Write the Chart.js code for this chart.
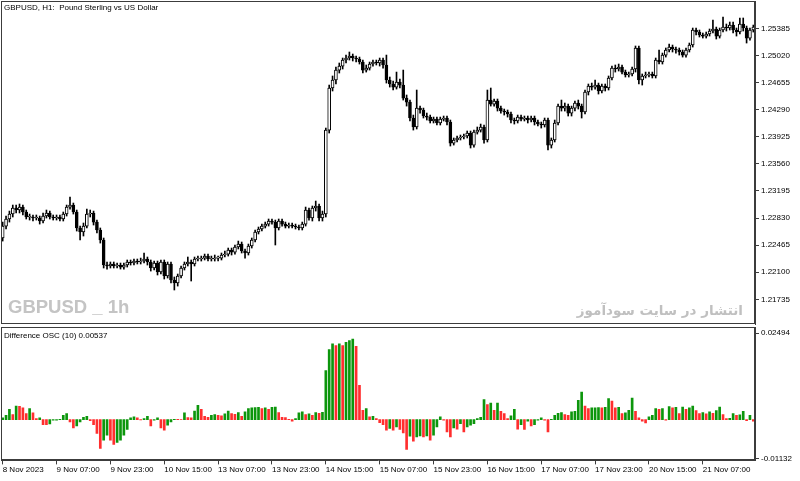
<!DOCTYPE html>
<html>
<head>
<meta charset="utf-8">
<script src="https://cdn.jsdelivr.net/npm/chart.js@4"></script>
<style>
  body { margin: 0; background: #fff; width: 800px; height: 481px; overflow: hidden; position: relative; font-family: "Liberation Sans", sans-serif; }
  #main { position: absolute; left: 0; top: 0; }
  #osc { position: absolute; left: 0; top: 326px; }
  .lbl { position: absolute; color: #000; font-size: 8px; white-space: nowrap; }
  #wm { position: absolute; left: 8px; top: 296px; font: bold 18.5px "Liberation Sans", sans-serif; color: #c4c4c4; white-space: nowrap; }
  #fa { position: absolute; right: 57px; top: 302px; font: bold 13.5px "DejaVu Sans", sans-serif; color: #c0c0c0; direction: rtl; white-space: nowrap; }
</style>
</head>
<body>
<canvas id="main" width="800" height="326"></canvas>
<canvas id="osc" width="800" height="155"></canvas>
<div class="lbl" style="left:4px;top:3px">GBPUSD, H1:&nbsp; Pound Sterling vs US Dollar</div>
<div id="wm">GBPUSD _ 1h</div>
<div id="fa">انتشار در سایت سودآموز</div>
<div class="lbl" style="left:4px;top:331px">Difference OSC (10) 0.00537</div>
<script>
// ---- GBPUSD H1 candles, 8 Nov 2023 15:00 -> 21 Nov 2023 22:00 ----
const opens = [
1.22561,1.22722,1.22817,1.22884,1.22965,1.22938,1.22978,1.22911,1.22844,1.22844,
1.22830,1.22830,1.22790,1.22857,1.22898,1.22844,1.22830,1.22844,1.22817,1.22884,
1.22978,1.23005,1.22911,1.22696,1.22642,1.22722,1.22884,1.22898,1.22776,1.22669,
1.22534,1.22197,1.22184,1.22211,1.22184,1.22197,1.22170,1.22197,1.22238,1.22224,
1.22251,1.22238,1.22251,1.22278,1.22238,1.22157,1.22224,1.22103,1.22238,1.22049,
1.22211,1.21995,1.21955,1.22049,1.22157,1.22211,1.22238,1.22211,1.22278,1.22278,
1.22291,1.22318,1.22278,1.22278,1.22291,1.22291,1.22332,1.22345,1.22399,1.22372,
1.22440,1.22480,1.22386,1.22359,1.22453,1.22534,1.22642,1.22682,1.22722,1.22749,
1.22790,1.22776,1.22696,1.22790,1.22749,1.22722,1.22736,1.22722,1.22709,1.22696,
1.22749,1.22938,1.22830,1.22965,1.22992,1.22830,1.22884,1.24015,1.24581,1.24689,
1.24823,1.24877,1.24958,1.24985,1.25012,1.24985,1.24972,1.24931,1.24823,1.24850,
1.24904,1.24931,1.24918,1.24958,1.24891,1.24689,1.24635,1.24594,1.24662,1.24621,
1.24446,1.24392,1.24177,1.24056,1.24311,1.24285,1.24204,1.24190,1.24137,1.24163,
1.24110,1.24163,1.24177,1.24123,1.23840,1.23881,1.23908,1.23921,1.23935,1.23975,
1.23813,1.23988,1.24015,1.24056,1.23881,1.24419,1.24365,1.24406,1.24311,1.24271,
1.24258,1.24231,1.24150,1.24137,1.24190,1.24163,1.24177,1.24150,1.24177,1.24123,
1.24096,1.24083,1.24150,1.23813,1.23881,1.24110,1.24338,1.24311,1.24338,1.24244,
1.24311,1.24379,1.24338,1.24258,1.24527,1.24608,1.24594,1.24621,1.24541,1.24608,
1.24581,1.24716,1.24850,1.24837,1.24864,1.24796,1.24756,1.24770,1.24837,1.25120,
1.24689,1.24743,1.24756,1.24770,1.24743,1.24958,1.24931,1.25025,1.25093,1.25133,
1.25106,1.25093,1.25066,1.25025,1.25093,1.25160,1.25362,1.25335,1.25295,1.25281,
1.25308,1.25349,1.25376,1.25281,1.25362,1.25402,1.25389,1.25429,1.25362,1.25335,
1.25443,1.25389,1.25254,1.25362
];
const highs = [
1.22776,1.22857,1.22924,1.23005,1.23005,1.23019,1.23005,1.22938,1.22884,1.22871,
1.22871,1.22857,1.22898,1.22938,1.22924,1.22871,1.22871,1.22871,1.22911,1.23005,
1.23113,1.23032,1.22938,1.22722,1.22763,1.22951,1.22938,1.22924,1.22803,1.22696,
1.22561,1.22238,1.22238,1.22238,1.22224,1.22224,1.22224,1.22265,1.22265,1.22278,
1.22278,1.22291,1.22359,1.22305,1.22265,1.22251,1.22251,1.22265,1.22265,1.22238,
1.22238,1.22036,1.22076,1.22184,1.22238,1.22305,1.22265,1.22305,1.22318,1.22318,
1.22345,1.22345,1.22318,1.22332,1.22318,1.22359,1.22386,1.22426,1.22426,1.22467,
1.22520,1.22507,1.22413,1.22480,1.22561,1.22669,1.22709,1.22749,1.22776,1.22817,
1.22817,1.22803,1.22817,1.22817,1.22776,1.22763,1.22763,1.22749,1.22736,1.22776,
1.22978,1.22965,1.22992,1.23059,1.23019,1.22924,1.24042,1.24621,1.24743,1.24864,
1.24918,1.24985,1.25025,1.25066,1.25039,1.25012,1.24998,1.24958,1.24891,1.24931,
1.24958,1.24958,1.24985,1.24985,1.25025,1.24729,1.24675,1.24796,1.24702,1.24823,
1.24487,1.24419,1.24217,1.24554,1.24338,1.24311,1.24244,1.24217,1.24190,1.24190,
1.24190,1.24204,1.24204,1.24150,1.23908,1.23935,1.23948,1.23961,1.24002,1.24002,
1.24015,1.24056,1.24096,1.24083,1.24554,1.24581,1.24433,1.24433,1.24338,1.24298,
1.24285,1.24258,1.24177,1.24217,1.24217,1.24204,1.24204,1.24204,1.24204,1.24150,
1.24123,1.24177,1.24177,1.23908,1.24150,1.24365,1.24419,1.24379,1.24365,1.24338,
1.24406,1.24419,1.24365,1.24554,1.24635,1.24648,1.24689,1.24648,1.24635,1.24635,
1.24743,1.24877,1.24891,1.24904,1.24891,1.24823,1.24796,1.24864,1.25147,1.25147,
1.24770,1.24796,1.24796,1.24796,1.24985,1.25093,1.25052,1.25120,1.25173,1.25160,
1.25133,1.25120,1.25093,1.25120,1.25187,1.25389,1.25389,1.25362,1.25322,1.25335,
1.25376,1.25497,1.25402,1.25389,1.25537,1.25443,1.25470,1.25470,1.25389,1.25524,
1.25524,1.25416,1.25389,1.25429
];
const lows = [
1.22520,1.22682,1.22776,1.22844,1.22898,1.22898,1.22871,1.22817,1.22803,1.22790,
1.22803,1.22749,1.22763,1.22830,1.22817,1.22803,1.22803,1.22790,1.22790,1.22857,
1.22951,1.22884,1.22655,1.22534,1.22588,1.22696,1.22844,1.22736,1.22628,1.22493,
1.22157,1.22143,1.22157,1.22157,1.22157,1.22143,1.22143,1.22170,1.22197,1.22197,
1.22211,1.22211,1.22224,1.22197,1.22116,1.22130,1.22063,1.22076,1.22009,1.22022,
1.21955,1.21861,1.21914,1.22022,1.22130,1.22184,1.21982,1.22184,1.22251,1.22251,
1.22265,1.22251,1.22251,1.22251,1.22251,1.22265,1.22305,1.22318,1.22332,1.22345,
1.22413,1.22359,1.22291,1.22332,1.22426,1.22507,1.22615,1.22655,1.22696,1.22722,
1.22749,1.22467,1.22669,1.22722,1.22696,1.22696,1.22696,1.22682,1.22669,1.22669,
1.22722,1.22803,1.22790,1.22924,1.22790,1.22790,1.22844,1.23975,1.24541,1.24635,
1.24783,1.24837,1.24918,1.24958,1.24945,1.24931,1.24904,1.24783,1.24796,1.24823,
1.24877,1.24891,1.24877,1.24850,1.24648,1.24594,1.24554,1.24567,1.24581,1.24419,
1.24338,1.24137,1.24015,1.24029,1.24244,1.24177,1.24150,1.24110,1.24110,1.24083,
1.24083,1.24137,1.24083,1.23800,1.23813,1.23854,1.23881,1.23894,1.23908,1.23773,
1.23786,1.23961,1.23988,1.23840,1.23854,1.24338,1.24338,1.24271,1.24244,1.24217,
1.24190,1.24110,1.24096,1.24110,1.24137,1.24137,1.24110,1.24123,1.24083,1.24069,
1.24042,1.24056,1.23746,1.23773,1.23854,1.24083,1.24271,1.24271,1.24204,1.24204,
1.24271,1.24298,1.24177,1.24231,1.24487,1.24554,1.24567,1.24500,1.24514,1.24541,
1.24554,1.24689,1.24796,1.24810,1.24770,1.24729,1.24729,1.24743,1.24796,1.24635,
1.24621,1.24716,1.24729,1.24716,1.24716,1.24904,1.24904,1.24998,1.25066,1.25066,
1.25052,1.25025,1.24998,1.24998,1.25066,1.25133,1.25295,1.25268,1.25254,1.25254,
1.25281,1.25322,1.25241,1.25254,1.25335,1.25349,1.25362,1.25322,1.25281,1.25308,
1.25349,1.25187,1.25227,1.25335
];
const closes = [
1.22722,1.22817,1.22884,1.22965,1.22938,1.22978,1.22911,1.22844,1.22844,1.22830,
1.22830,1.22790,1.22857,1.22898,1.22844,1.22830,1.22844,1.22817,1.22884,1.22978,
1.23005,1.22911,1.22696,1.22642,1.22722,1.22884,1.22898,1.22776,1.22669,1.22534,
1.22197,1.22184,1.22211,1.22184,1.22197,1.22170,1.22197,1.22238,1.22224,1.22251,
1.22238,1.22251,1.22278,1.22238,1.22157,1.22224,1.22103,1.22238,1.22049,1.22211,
1.21995,1.21955,1.22049,1.22157,1.22211,1.22238,1.22211,1.22278,1.22278,1.22291,
1.22318,1.22278,1.22278,1.22291,1.22291,1.22332,1.22345,1.22399,1.22372,1.22440,
1.22480,1.22386,1.22359,1.22453,1.22534,1.22642,1.22682,1.22722,1.22749,1.22790,
1.22776,1.22696,1.22790,1.22749,1.22722,1.22736,1.22722,1.22709,1.22696,1.22749,
1.22938,1.22830,1.22965,1.22992,1.22830,1.22884,1.24015,1.24581,1.24689,1.24823,
1.24877,1.24958,1.24985,1.25012,1.24985,1.24972,1.24931,1.24823,1.24850,1.24904,
1.24931,1.24918,1.24958,1.24891,1.24689,1.24635,1.24594,1.24662,1.24621,1.24446,
1.24392,1.24177,1.24056,1.24311,1.24285,1.24204,1.24190,1.24137,1.24163,1.24110,
1.24163,1.24177,1.24123,1.23840,1.23881,1.23908,1.23921,1.23935,1.23975,1.23813,
1.23988,1.24015,1.24056,1.23881,1.24419,1.24365,1.24406,1.24311,1.24271,1.24258,
1.24231,1.24150,1.24137,1.24190,1.24163,1.24177,1.24150,1.24177,1.24123,1.24096,
1.24083,1.24150,1.23813,1.23881,1.24110,1.24338,1.24311,1.24338,1.24244,1.24311,
1.24379,1.24338,1.24258,1.24527,1.24608,1.24594,1.24621,1.24541,1.24608,1.24581,
1.24716,1.24850,1.24837,1.24864,1.24796,1.24756,1.24770,1.24837,1.25120,1.24689,
1.24743,1.24756,1.24770,1.24743,1.24958,1.24931,1.25025,1.25093,1.25133,1.25106,
1.25093,1.25066,1.25025,1.25093,1.25160,1.25362,1.25335,1.25295,1.25281,1.25308,
1.25349,1.25376,1.25281,1.25362,1.25402,1.25389,1.25429,1.25362,1.25335,1.25443,
1.25389,1.25254,1.25362,1.25402
];

// ---- Difference OSC (10) histogram ----
const osc = [
0.00048,0.00125,0.00297,0.00144,0.00393,0.00380,0.00336,0.00173,0.00316,0.00192,
0.00029,0.00048,-0.00144,-0.00150,-0.00125,-0.00019,-0.00015,0.00005,0.00125,0.00173,
-0.00067,-0.00240,-0.00182,-0.00067,0.00067,0.00096,-0.00029,-0.00144,-0.00403,-0.00834,
-0.00595,-0.00451,-0.00595,-0.00719,-0.00662,-0.00595,-0.00451,-0.00288,0.00048,0.00077,
0.00048,-0.00010,0.00029,0.00096,-0.00182,-0.00019,0.00048,-0.00240,-0.00307,-0.00163,
-0.00067,0.00010,0.00005,0.00000,0.00192,0.00058,0.00048,0.00249,0.00412,0.00297,
0.00096,0.00067,0.00125,0.00144,0.00125,0.00105,0.00163,0.00249,0.00173,0.00153,
0.00201,0.00096,0.00221,0.00316,0.00336,0.00345,0.00355,0.00316,0.00336,0.00297,
0.00355,0.00364,0.00201,0.00067,0.00058,0.00010,-0.00048,0.00029,0.00192,0.00221,
0.00144,0.00163,0.00125,0.00201,0.00182,0.00211,0.01419,0.02023,0.02186,0.02139,
0.02186,0.02139,0.02235,0.02282,0.02330,0.02119,0.00988,0.00269,0.00316,0.00077,
0.00096,0.00029,-0.00086,-0.00144,-0.00307,-0.00259,-0.00307,-0.00211,-0.00288,-0.00384,
-0.00863,-0.00480,-0.00623,-0.00499,-0.00470,-0.00499,-0.00470,-0.00595,-0.00451,-0.00211,
0.00077,-0.00019,-0.00355,-0.00499,-0.00240,-0.00278,-0.00115,-0.00355,-0.00211,-0.00163,
-0.00115,0.00029,0.00067,0.00575,0.00432,0.00480,0.00269,0.00480,0.00240,0.00173,
0.00029,0.00105,0.00297,-0.00278,-0.00144,-0.00288,-0.00048,-0.00182,-0.00144,-0.00019,
0.00048,-0.00019,-0.00355,0.00005,0.00125,0.00182,0.00201,0.00144,0.00125,0.00221,
0.00240,0.00556,0.00796,0.00393,0.00316,0.00336,0.00340,0.00345,0.00336,0.00355,
0.00604,0.00537,0.00336,0.00355,0.00173,0.00192,0.00269,0.00623,0.00240,0.00048,
-0.00048,-0.00096,0.00077,0.00125,0.00316,0.00297,0.00316,-0.00019,0.00374,0.00336,
0.00355,0.00173,0.00364,0.00297,0.00336,0.00393,0.00259,0.00173,0.00201,0.00163,
0.00221,0.00182,0.00259,0.00364,0.00144,0.00029,0.00038,0.00173,0.00125,0.00134,
0.00240,-0.00029,0.00125,-0.00048
];

// time axis labels, one every 16 bars
const timeLabels = ["8 Nov 2023", "9 Nov 07:00", "9 Nov 23:00", "10 Nov 15:00", "13 Nov 07:00",
  "13 Nov 23:00", "14 Nov 15:00", "15 Nov 07:00", "15 Nov 23:00", "16 Nov 15:00",
  "17 Nov 07:00", "17 Nov 23:00", "20 Nov 15:00", "21 Nov 07:00"];
const labelStep = 16;
const priceTicks = [1.21735, 1.22100, 1.22465, 1.22830, 1.23195, 1.23560, 1.23925, 1.24290, 1.24655, 1.25020, 1.25385];
const oscTicks = [0.02494, -0.01132];

const bars = closes.map((c, i) => i);
const axisFont = { family: "Liberation Sans", size: 8 };
const frameColor = "#3c3c3c";

// draw the frame box around the plot area (MT style)
const frame = {
  id: "frame",
  afterDraw(chart) {
    const a = chart.chartArea, ctx = chart.ctx;
    ctx.save();
    ctx.strokeStyle = frameColor;
    ctx.lineWidth = 1;
    ctx.strokeRect(Math.floor(a.left) + 0.5, Math.floor(a.top) + 0.5, Math.round(a.right - a.left) - 1, Math.round(a.bottom - a.top) - 1);
    ctx.restore();
  }
};

function rightAxis(min, max, tickList, fmt) {
  return {
    position: "right",
    min, max,
    afterBuildTicks: (s) => { s.ticks = tickList.map((v) => ({ value: v })); },
    afterFit: (s) => { s.width = 45; s.paddingTop = 0; s.paddingBottom = 0; },
    ticks: { font: axisFont, color: "#000", padding: 2, callback: fmt },
    grid: { drawOnChartArea: false, drawTicks: true, tickLength: 4, color: frameColor },
    border: { display: true, color: frameColor }
  };
}

new Chart(document.getElementById("main"), {
  type: "bar",
  data: {
    labels: bars,
    datasets: [
      {
        label: "body",
        data: opens.map((o, i) => [o, closes[i]]),
        backgroundColor: opens.map((o, i) => (closes[i] >= o ? "#ffffff" : "#000000")),
        borderColor: "#000",
        borderWidth: 1,
        borderSkipped: false,
        barThickness: 3,
        minBarLength: 1,
        grouped: false
      },
      {
        label: "wick",
        data: lows.map((l, i) => [l, highs[i]]),
        backgroundColor: "#000",
        barThickness: 1,
        grouped: false
      }
    ]
  },
  options: {
    responsive: false,
    animation: false,
    events: [],
    layout: { padding: { left: 1, top: 1, bottom: 2, right: 0 } },
    plugins: { legend: { display: false }, tooltip: { enabled: false } },
    scales: {
      x: { display: false, offset: true },
      y: rightAxis(1.21403, 1.25753, priceTicks, (v) => v.toFixed(5))
    }
  },
  plugins: [frame]
});

new Chart(document.getElementById("osc"), {
  type: "bar",
  data: {
    labels: bars,
    datasets: [{
      label: "Difference OSC (10)",
      data: osc,
      backgroundColor: osc.map((v, i) => (i > 0 && v < osc[i - 1] ? "#ff2e2e" : "#0c960c")),
      barThickness: 2
    }]
  },
  options: {
    responsive: false,
    animation: false,
    events: [],
    layout: { padding: { left: 1, top: 1, right: 0, bottom: 5 } },
    plugins: { legend: { display: false }, tooltip: { enabled: false } },
    scales: {
      x: {
        offset: true,
        afterBuildTicks: (s) => { s.ticks = s.ticks.filter((t) => t.value % labelStep === 0); },
        afterFit: (s) => { s.paddingLeft = 0; s.paddingRight = 0; },
        ticks: {
          font: axisFont, color: "#000", autoSkip: false, maxRotation: 0, align: "start", padding: 1,
          callback: (v) => timeLabels[v / labelStep]
        },
        grid: { drawOnChartArea: false, offset: false, drawTicks: true, tickLength: 4, color: frameColor },
        border: { display: true, color: frameColor }
      },
      y: rightAxis(-0.0118, 0.02676, oscTicks, (v) => v.toFixed(5))
    }
  },
  plugins: [frame]
});
</script>
</body>
</html>
